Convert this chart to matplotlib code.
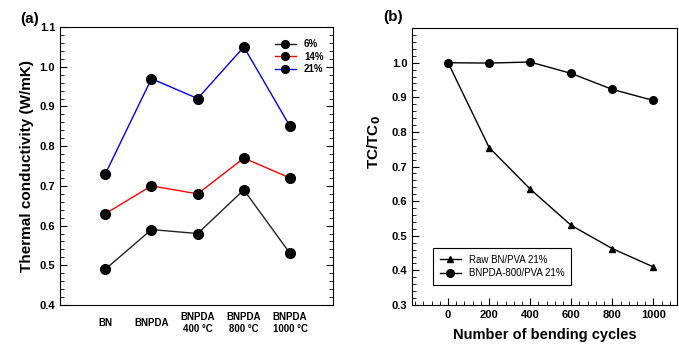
import numpy as np
import matplotlib
matplotlib.use("Agg")
import matplotlib.pyplot as plt
from matplotlib.ticker import MultipleLocator

plt.rcParams['font.family'] = ['Liberation Sans', 'DejaVu Sans']

# panel (a)
samples = ["BN", "BNPDA", "BNPDA\n400 °C", "BNPDA\n800 °C", "BNPDA\n1000 °C"]
tc_6 = [0.49, 0.59, 0.58, 0.69, 0.53]
tc_14 = [0.63, 0.70, 0.68, 0.77, 0.72]
tc_21 = [0.73, 0.97, 0.92, 1.05, 0.85]

# panel (b)
cycles = [0, 200, 400, 600, 800, 1000]
raw_bn = [1.0, 0.755, 0.635, 0.53, 0.463, 0.41]
bnpda_800 = [1.0, 0.999, 1.002, 0.969, 0.923, 0.891]

fig = plt.figure(figsize=(6.79, 3.47), dpi=100)

# ---- (a)
ax1 = fig.add_axes([0.0884, 0.121, 0.402, 0.801])
xpos = np.arange(1, len(samples) + 1)
for vals, col, lab in [(tc_6, "#222222", "6%"), (tc_14, "red", "14%"), (tc_21, "blue", "21%")]:
    ax1.plot(xpos, vals, "-", color=col, lw=1, marker="o", ms=7,
             mfc="black", mec="black", label=lab)
ax1.set_xlim(0.02, 5.93)
ax1.set_ylim(0.4, 1.1)
ax1.set_xticks(xpos)
ax1.set_xticklabels(samples, fontsize=7, fontweight="bold", va="center")
ax1.tick_params(axis="x", length=0, pad=13)
ax1.yaxis.set_major_locator(MultipleLocator(0.1))
ax1.yaxis.set_minor_locator(MultipleLocator(0.02))
ax1.tick_params(axis="y", which="both", direction="in", left=True, right=True,
                labelsize=8)
ax1.tick_params(axis="y", which="major", length=5)
ax1.tick_params(axis="y", which="minor", length=3)
for t in ax1.get_yticklabels():
    t.set_fontweight("bold")
ax1.set_ylabel("Thermal conductivity (W/mK)", fontsize=11, fontweight="bold")
leg1 = ax1.legend(loc="upper right", frameon=False, fontsize=7,
                  handlelength=2.2, labelspacing=0.25, borderaxespad=0.3,
                  markerscale=0.8, bbox_to_anchor=(0.99, 0.98))
for t in leg1.get_texts():
    t.set_fontweight("bold")
fig.text(0.03, 0.935, "(a)", fontsize=11, fontweight="bold")

# ---- (b)
ax2 = fig.add_axes([0.607, 0.121, 0.390, 0.798])
ax2.plot(cycles, raw_bn, "-", color="black", lw=1, marker="^", ms=5,
         label="Raw BN/PVA 21%")
ax2.plot(cycles, bnpda_800, "-", color="black", lw=1, marker="o", ms=5.5,
         label="BNPDA-800/PVA 21%")
ax2.set_xlim(-175, 1115)
ax2.set_ylim(0.3, 1.1)
ax2.set_xticks(cycles)
ax2.set_yticks(np.arange(0.3, 1.01, 0.1))
ax2.xaxis.set_minor_locator(MultipleLocator(40))
ax2.yaxis.set_minor_locator(MultipleLocator(0.02))
ax2.tick_params(which="both", direction="in", labelsize=8)
ax2.tick_params(which="major", length=5)
ax2.tick_params(which="minor", length=3)
for t in ax2.get_xticklabels() + ax2.get_yticklabels():
    t.set_fontweight("bold")
ax2.set_xlabel("Number of bending cycles", fontsize=10.5, fontweight="bold",
               labelpad=6)
ax2.set_ylabel("TC/TC$_\\mathbf{0}$", fontsize=11, fontweight="bold")
ax2.yaxis.set_label_coords(-0.11, 0.59)
leg2 = ax2.legend(loc="lower left", fontsize=7, fancybox=False,
                  edgecolor="black", framealpha=1, handlelength=2.2,
                  labelspacing=0.35, borderpad=0.7,
                  bbox_to_anchor=(0.06, 0.055))
leg2.get_frame().set_linewidth(0.8)
fig.text(0.565, 0.94, "(b)", fontsize=11, fontweight="bold")

fig.savefig("out.png", dpi=100)
